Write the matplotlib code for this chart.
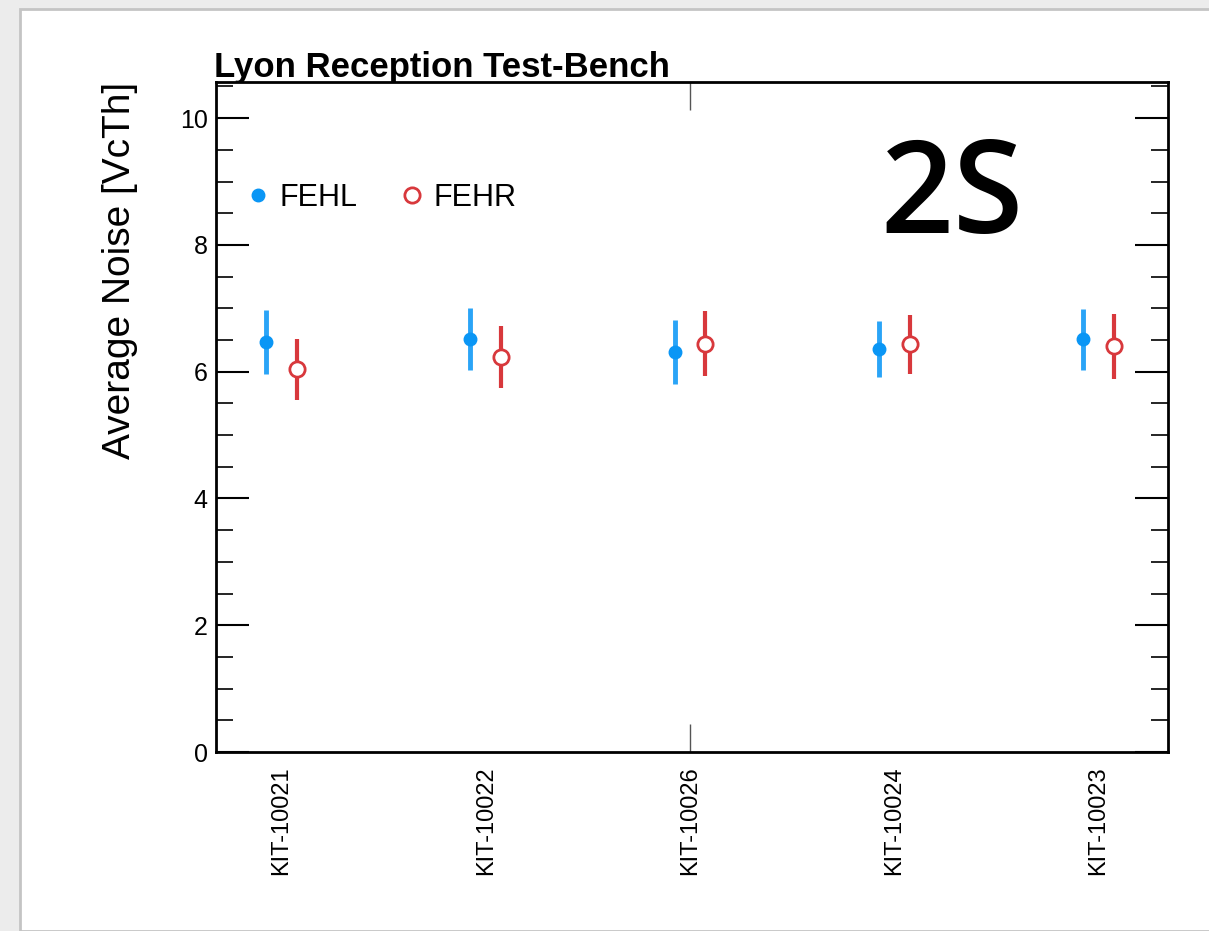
import numpy as np
import matplotlib.pyplot as plt
from matplotlib.patches import Rectangle
from matplotlib.lines import Line2D
from matplotlib.ticker import MultipleLocator, FixedLocator

# modules on the bench
modules = ['KIT-10021', 'KIT-10022', 'KIT-10026', 'KIT-10024', 'KIT-10023']

# average noise per front-end hybrid (VcTh)
fehl_mean = [6.47, 6.51, 6.31, 6.36, 6.51]
fehl_err = [0.50, 0.49, 0.50, 0.44, 0.48]
fehr_mean = [6.04, 6.23, 6.44, 6.43, 6.40]
fehr_err = [0.48, 0.49, 0.51, 0.47, 0.51]

blue = '#0a96f5'
red = '#d8383c'
narrow = ['Liberation Sans Narrow', 'Liberation Sans', 'DejaVu Sans']

fig = plt.figure(figsize=(12.09, 9.31), dpi=100, facecolor='#ececec')
# white card like the screenshot
fig.patches.append(Rectangle((20 / 1209, 0), 1.0, 1 - 9 / 931, transform=fig.transFigure,
                             facecolor='white', edgecolor='#c4c4c4', linewidth=2, zorder=-10))

ax = fig.add_axes([216 / 1209, 1 - 752 / 931, (1168 - 216) / 1209, (752 - 82) / 931])
ax.set_zorder(5)

x = np.arange(len(modules))
off = 0.075

ax.errorbar(x - off, fehl_mean, yerr=fehl_err, fmt='o', color=blue, ecolor='#2aa4f7',
            elinewidth=3.5, markersize=9, capsize=0)
ax.errorbar(x + off, fehr_mean, yerr=fehr_err, fmt='o', color=red, mfc='white', mec=red,
            mew=2, elinewidth=3, markersize=11, capsize=0)

ax.set_xlim(-0.32, 4.34)
ax.set_ylim(0, 10.57)
ax.set_xticks(x)
ax.set_xticklabels(modules, rotation=90, fontsize=17, family=narrow)
# only the middle division is drawn on the x axis
ax.xaxis.remove_overlapping_locs = False
ax.xaxis.set_minor_locator(FixedLocator([2]))
ax.yaxis.set_major_locator(MultipleLocator(2))
ax.yaxis.set_minor_locator(MultipleLocator(0.5))
ax.tick_params(axis='y', which='major', direction='in', length=24, width=1.5, labelsize=18,
               right=True, pad=6)
ax.tick_params(axis='y', which='minor', direction='in', length=12, width=1.2, right=True)
ax.tick_params(axis='x', which='major', length=0, pad=10)
ax.tick_params(axis='x', which='minor', direction='in', length=20, width=1, top=True,
               color='#555555')
for s in ax.spines.values():
    s.set_linewidth(2)

ax.set_ylabel('Average Noise [VcTh]', fontsize=28, labelpad=30, loc='top',
              family=['Liberation Sans', 'DejaVu Sans'])
for t in ax.get_yticklabels():
    t.set_family(narrow)

fig.text(214 / 1209, 1 - 77 / 931, 'Lyon Reception Test-Bench', fontsize=25, fontweight='bold',
         family=narrow, ha='left', va='baseline')

handles = [Line2D([], [], ls='none', marker='o', color=blue, markersize=9),
           Line2D([], [], ls='none', marker='o', mfc='white', mec=red, mew=2, markersize=11)]
ax.legend(handles, ['FEHL', 'FEHR'], loc='upper left', bbox_to_anchor=(-0.004, 0.891), ncol=2,
          frameon=False, handletextpad=0.1, columnspacing=1.2, handlelength=1.2,
          prop={'family': ['Liberation Sans', 'DejaVu Sans'], 'size': 22})

ax.text(0.773, 0.824, '2S', transform=ax.transAxes, fontsize=92, fontweight='semibold',
        family=['Open Sans', 'DejaVu Sans'], ha='center', va='center')

fig.savefig('out.png', dpi=100, facecolor=fig.get_facecolor())
